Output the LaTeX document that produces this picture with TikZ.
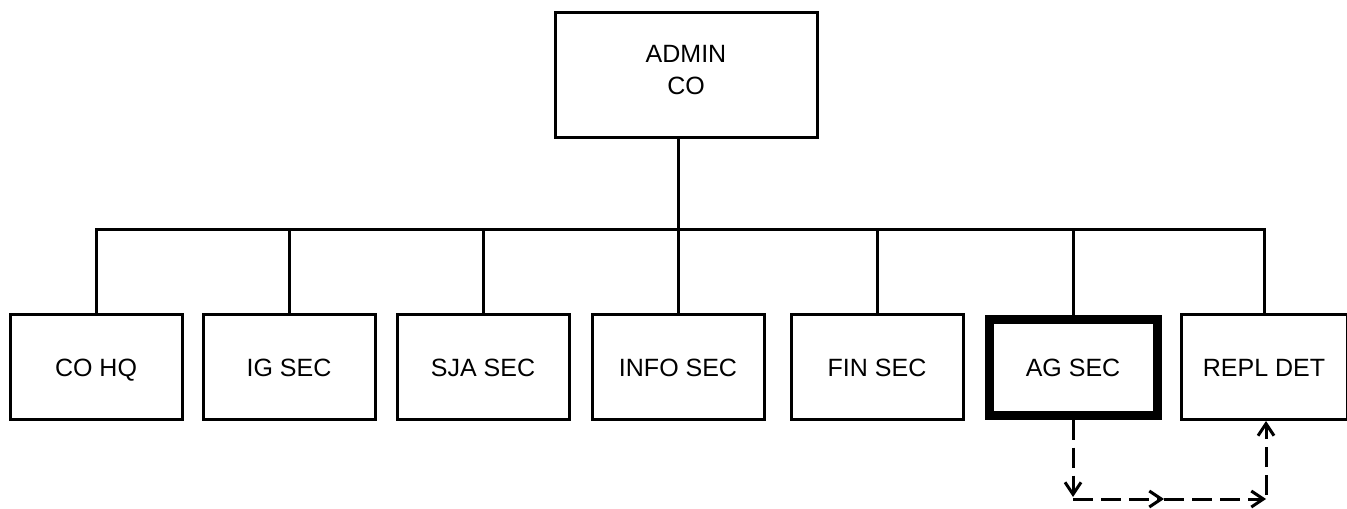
\documentclass[tikz,border=0pt]{standalone}
\usepackage{fontspec}
\setmainfont{Liberation Sans}
\usetikzlibrary{arrows.meta}
\begin{document}
\begin{tikzpicture}[x=0.5pt,y=-0.5pt,
  lbl/.style={font=\fontsize{12.5}{14}\selectfont,align=center},
  unit/.style={draw,line width=1.5pt,minimum width=86pt,minimum height=52.5pt,inner sep=0pt,lbl,text height=9pt,text depth=0pt},
  topunit/.style={draw,line width=1.5pt,minimum width=131pt,minimum height=62pt,inner sep=0pt},
  boldunit/.style={unit,line width=4.5pt,minimum width=84pt,minimum height=48pt},
  conn/.style={line width=1.5pt},
  flow/.style={line width=1.5pt,dash pattern=on 10pt off 4pt,-{Straight Barb[length=6pt,width=8pt,line width=1.5pt]}}]
\useasboundingbox (0,0) rectangle (1347,508);
\node[topunit,label={[lbl,yshift=2.5pt]center:ADMIN\\[2pt]CO}] (admin) at (686,75) {};
\node[unit] (cohq) at (96,367) {CO HQ};
\node[unit] (ig) at (289,367) {IG SEC};
\node[unit] (sja) at (483,367) {SJA SEC};
\node[unit] (info) at (678,367) {INFO SEC};
\node[unit] (fin) at (877,367) {FIN SEC};
\node[boldunit] (ag) at (1073,367) {AG SEC};
\node[unit,minimum width=83pt] (repl) at (1264,367) {REPL DET};
\coordinate (bus) at (678,229);
\draw[conn] (admin.south -| info.north) -- (info.north);
\draw[conn] (cohq.north) |- (bus) -| (ag.north);
\draw[conn] (ig.north) -- (ig.north |- bus);
\draw[conn] (sja.north) -- (sja.north |- bus);
\draw[conn] (fin.north) -- (fin.north |- bus);
\draw[conn] (repl.north) -- (repl.north |- bus) -- (ag.north |- bus);
\coordinate (c1) at (1073,499);
\coordinate (cm) at (1164,499);
\coordinate (c2) at (1266,499);
\draw[flow] (ag.south) -- (1073,497);
\draw[flow] (c1) -- (cm);
\draw[flow] (cm) -- (c2);
\draw[flow] (1266,495) -- (repl.south -| c2);
\end{tikzpicture}
\end{document}
